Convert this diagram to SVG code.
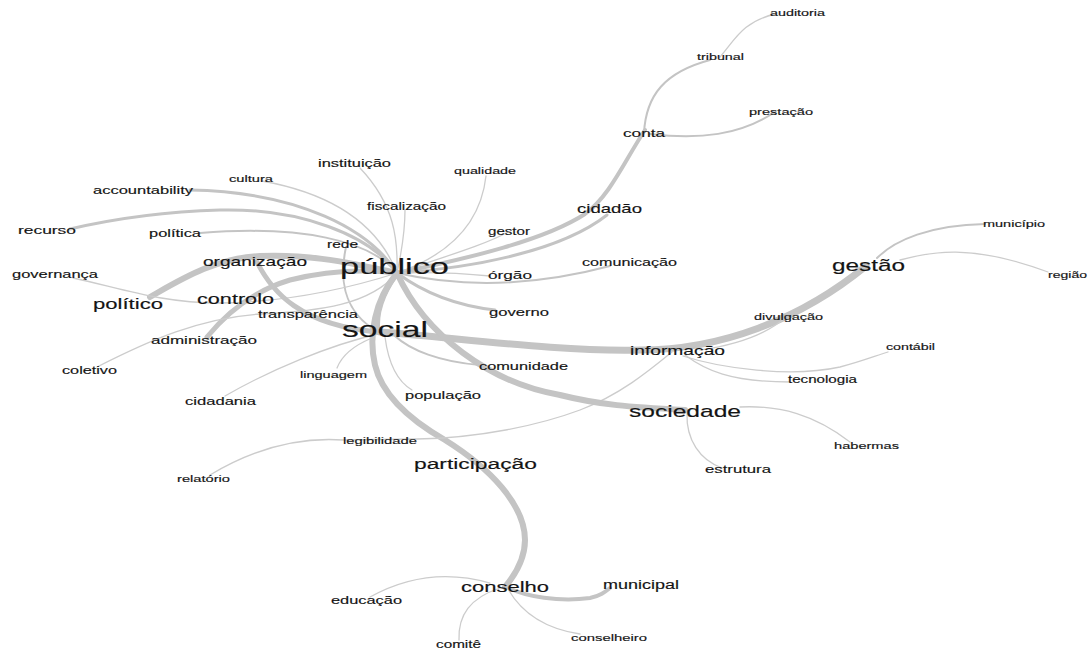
<svg xmlns="http://www.w3.org/2000/svg" width="1089" height="649" viewBox="0 0 1089 649">
<style>
.t{font-family:"Liberation Sans",Arial,sans-serif;fill:#141414;text-anchor:middle;stroke:#141414;stroke-width:0.15}
.e{fill:none;stroke:#c4c4c4;stroke-linecap:round}
.w1{stroke-width:1.3;stroke:#cccccc}
.w2{stroke-width:2}
.w3{stroke-width:3}
.w4{stroke-width:4}
.w5{stroke-width:5}
.w6{stroke-width:6}
.w7{stroke-width:7}
</style>
<rect width="1089" height="649" fill="#ffffff"/>
<g id="connectors">
<path class="e w4" d="M397,273 C470,258 545,240 585,214 C610,196 625,160 645,130"/>
<path class="e w3" d="M397,273 C470,268 560,252 607,215"/>
<path class="e w2" d="M644,133 C646,95 665,72 710,60"/>
<path class="e w1" d="M720,57 C735,40 742,22 775,14"/>
<path class="e w2" d="M650,134 C700,140 740,135 775,112"/>
<path class="e w1" d="M397,273 C440,258 485,245 508,232"/>
<path class="e w1" d="M397,273 C440,258 480,230 486,176"/>
<path class="e w1" d="M397,273 C402,250 405,230 405,210"/>
<path class="e w1" d="M397,273 C398,240 395,205 360,168"/>
<path class="e w1" d="M397,273 C380,230 340,195 262,181"/>
<path class="e w3" d="M397,273 C370,230 300,192 190,190"/>
<path class="e w3" d="M397,273 C370,235 300,208 220,210 C150,212 100,222 70,229"/>
<path class="e w2" d="M397,273 C370,240 300,225 200,233"/>
<path class="e w2" d="M346,247 C340,275 340,310 378,332"/>
<path class="e w6" d="M150,297 C180,280 215,258 260,256 C300,254 340,260 397,273"/>
<path class="e w5" d="M207,337 C225,315 250,292 290,280 C330,270 370,270 397,273"/>
<path class="e w1" d="M73,278 C120,288 160,303 220,303 C290,302 350,288 397,273"/>
<path class="e w1" d="M97,367 C150,340 200,318 260,314 C320,311 370,305 397,273"/>
<path class="e w5" d="M257,262 C272,292 300,325 378,332"/>
<path class="e w1" d="M378,334 C330,345 270,370 225,396"/>
<path class="e w1" d="M372,338 C355,345 342,355 337,368"/>
<path class="e w1" d="M385,337 C388,360 395,380 412,390"/>
<path class="e w2" d="M395,336 C410,350 440,362 480,365"/>
<path class="e w5" d="M397,273 C385,290 375,310 378,332"/>
<path class="e w6" d="M397,273 C375,300 368,335 375,365 C382,395 410,420 445,440 C490,468 525,505 525,540 C525,560 515,575 505,587"/>
<path class="e w4" d="M507,587 C525,597 560,602 590,598 C600,596 605,592 610,588"/>
<path class="e w1" d="M490,583 C455,573 415,572 370,597"/>
<path class="e w1" d="M500,588 C470,598 458,615 459,640"/>
<path class="e w1" d="M508,589 C520,610 540,628 580,634"/>
<path class="e w7" d="M380,332 C460,338 560,352 640,350 C720,350 800,320 866,266"/>
<path class="e w2" d="M877,258 C895,240 930,225 985,224"/>
<path class="e w1" d="M900,260 C930,252 970,243 1048,272"/>
<path class="e w1" d="M700,350 C735,345 765,335 785,318"/>
<path class="e w1" d="M683,356 C720,368 790,378 840,367 C860,362 875,356 888,352"/>
<path class="e w1" d="M685,355 C705,370 730,382 790,382"/>
<path class="e w1" d="M672,352 C650,370 620,395 580,410 C540,425 480,438 417,439 L343,440 C300,437 255,448 210,475"/>
<path class="e w6" d="M397,273 C425,335 490,383 560,395 C600,405 630,407 685,410"/>
<path class="e w1" d="M740,407 C780,405 815,415 850,442"/>
<path class="e w1" d="M687,413 C686,440 700,460 722,468"/>
<path class="e w2" d="M397,273 C450,285 520,290 610,266"/>
<path class="e w1" d="M397,273 C430,272 460,273 490,276"/>
<path class="e w3" d="M397,273 C420,290 450,305 495,310"/>
</g>
<g id="n-auditoria"><text class="t" x="797.5" y="16.4" font-size="9.6" textLength="55" lengthAdjust="spacingAndGlyphs">auditoria</text></g>
<g id="n-tribunal"><text class="t" x="720.5" y="60.4" font-size="9.6" textLength="47" lengthAdjust="spacingAndGlyphs">tribunal</text></g>
<g id="n-prestacao"><text class="t" x="781" y="115.4" font-size="9.7" textLength="64" lengthAdjust="spacingAndGlyphs">prestação</text></g>
<g id="n-conta"><text class="t" x="644" y="137" font-size="11.4" textLength="42" lengthAdjust="spacingAndGlyphs">conta</text></g>
<g id="n-cidadao"><text class="t" x="609.5" y="213.3" font-size="12.4" textLength="65" lengthAdjust="spacingAndGlyphs">cidadão</text></g>
<g id="n-instituicao"><text class="t" x="354.5" y="166.8" font-size="10.9" textLength="73" lengthAdjust="spacingAndGlyphs">instituição</text></g>
<g id="n-qualidade"><text class="t" x="485" y="174.3" font-size="9.5" textLength="62" lengthAdjust="spacingAndGlyphs">qualidade</text></g>
<g id="n-cultura"><text class="t" x="251" y="182.4" font-size="9.8" textLength="44" lengthAdjust="spacingAndGlyphs">cultura</text></g>
<g id="n-accountability"><text class="t" x="143" y="193.9" font-size="11" textLength="100" lengthAdjust="spacingAndGlyphs">accountability</text></g>
<g id="n-fiscalizacao"><text class="t" x="406.5" y="209.6" font-size="10.2" textLength="79" lengthAdjust="spacingAndGlyphs">fiscalização</text></g>
<g id="n-gestor"><text class="t" x="509" y="234.5" font-size="10.1" textLength="42" lengthAdjust="spacingAndGlyphs">gestor</text></g>
<g id="n-recurso"><text class="t" x="47" y="233.9" font-size="11" textLength="58" lengthAdjust="spacingAndGlyphs">recurso</text></g>
<g id="n-politica"><text class="t" x="175" y="236.8" font-size="10.9" textLength="52" lengthAdjust="spacingAndGlyphs">política</text></g>
<g id="n-rede"><text class="t" x="342.5" y="247.6" font-size="10.3" textLength="31" lengthAdjust="spacingAndGlyphs">rede</text></g>
<g id="n-organizacao"><text class="t" x="255" y="266.4" font-size="12.7" textLength="104" lengthAdjust="spacingAndGlyphs">organização</text></g>
<g id="n-publico"><text class="t" x="394.5" y="274" font-size="22.9" textLength="109" lengthAdjust="spacingAndGlyphs">público</text></g>
<g id="n-comunicacao"><text class="t" x="629.5" y="265.8" font-size="10.9" textLength="95" lengthAdjust="spacingAndGlyphs">comunicação</text></g>
<g id="n-orgao"><text class="t" x="510" y="279" font-size="11.5" textLength="44" lengthAdjust="spacingAndGlyphs">órgão</text></g>
<g id="n-municipio"><text class="t" x="1014" y="227.4" font-size="9.7" textLength="62" lengthAdjust="spacingAndGlyphs">município</text></g>
<g id="n-governanca"><text class="t" x="55" y="277.9" font-size="11" textLength="86" lengthAdjust="spacingAndGlyphs">governança</text></g>
<g id="n-gestao"><text class="t" x="868.5" y="270.7" font-size="16.2" textLength="73" lengthAdjust="spacingAndGlyphs">gestão</text></g>
<g id="n-regiao"><text class="t" x="1067.5" y="278.3" font-size="9.4" textLength="39" lengthAdjust="spacingAndGlyphs">região</text></g>
<g id="n-politico"><text class="t" x="128" y="309.1" font-size="14.7" textLength="70" lengthAdjust="spacingAndGlyphs">político</text></g>
<g id="n-controlo"><text class="t" x="235.5" y="304" font-size="14.4" textLength="77" lengthAdjust="spacingAndGlyphs">controlo</text></g>
<g id="n-transparencia"><text class="t" x="308" y="318" font-size="11.4" textLength="100" lengthAdjust="spacingAndGlyphs">transparência</text></g>
<g id="n-governo"><text class="t" x="519" y="315.9" font-size="11" textLength="60" lengthAdjust="spacingAndGlyphs">governo</text></g>
<g id="n-social"><text class="t" x="385" y="336.5" font-size="22.4" textLength="86" lengthAdjust="spacingAndGlyphs">social</text></g>
<g id="n-divulgacao"><text class="t" x="788.5" y="320.4" font-size="9.6" textLength="69" lengthAdjust="spacingAndGlyphs">divulgação</text></g>
<g id="n-administracao"><text class="t" x="204" y="344" font-size="11.4" textLength="106" lengthAdjust="spacingAndGlyphs">administração</text></g>
<g id="n-contabil"><text class="t" x="910.5" y="350.3" font-size="9.5" textLength="49" lengthAdjust="spacingAndGlyphs">contábil</text></g>
<g id="n-informacao"><text class="t" x="677.5" y="354.5" font-size="12.8" textLength="95" lengthAdjust="spacingAndGlyphs">informação</text></g>
<g id="n-comunidade"><text class="t" x="523.5" y="369.8" font-size="10.9" textLength="89" lengthAdjust="spacingAndGlyphs">comunidade</text></g>
<g id="n-coletivo"><text class="t" x="89.5" y="373.8" font-size="10.8" textLength="55" lengthAdjust="spacingAndGlyphs">coletivo</text></g>
<g id="n-linguagem"><text class="t" x="333.5" y="378.4" font-size="9.7" textLength="67" lengthAdjust="spacingAndGlyphs">linguagem</text></g>
<g id="n-tecnologia"><text class="t" x="822.5" y="382.5" font-size="10.1" textLength="69" lengthAdjust="spacingAndGlyphs">tecnologia</text></g>
<g id="n-populacao"><text class="t" x="443" y="398.9" font-size="11" textLength="76" lengthAdjust="spacingAndGlyphs">população</text></g>
<g id="n-cidadania"><text class="t" x="220.5" y="404.9" font-size="11.1" textLength="71" lengthAdjust="spacingAndGlyphs">cidadania</text></g>
<g id="n-sociedade"><text class="t" x="685" y="416.7" font-size="16.4" textLength="112" lengthAdjust="spacingAndGlyphs">sociedade</text></g>
<g id="n-legibilidade"><text class="t" x="380" y="443.5" font-size="9.9" textLength="74" lengthAdjust="spacingAndGlyphs">legibilidade</text></g>
<g id="n-habermas"><text class="t" x="866.5" y="449.4" font-size="9.7" textLength="65" lengthAdjust="spacingAndGlyphs">habermas</text></g>
<g id="n-participacao"><text class="t" x="475.5" y="469.3" font-size="15.2" textLength="123" lengthAdjust="spacingAndGlyphs">participação</text></g>
<g id="n-estrutura"><text class="t" x="738" y="472.9" font-size="11.2" textLength="66" lengthAdjust="spacingAndGlyphs">estrutura</text></g>
<g id="n-relatorio"><text class="t" x="203.5" y="482.4" font-size="9.8" textLength="53" lengthAdjust="spacingAndGlyphs">relatório</text></g>
<g id="n-municipal"><text class="t" x="641" y="589.2" font-size="12" textLength="76" lengthAdjust="spacingAndGlyphs">municipal</text></g>
<g id="n-conselho"><text class="t" x="505" y="592.1" font-size="14.7" textLength="88" lengthAdjust="spacingAndGlyphs">conselho</text></g>
<g id="n-educacao"><text class="t" x="366.5" y="603.8" font-size="10.9" textLength="71" lengthAdjust="spacingAndGlyphs">educação</text></g>
<g id="n-conselheiro"><text class="t" x="609" y="640.5" font-size="9.9" textLength="76" lengthAdjust="spacingAndGlyphs">conselheiro</text></g>
<g id="n-comite"><text class="t" x="458.5" y="648" font-size="10.2" textLength="45" lengthAdjust="spacingAndGlyphs">comitê</text></g>
</svg>
